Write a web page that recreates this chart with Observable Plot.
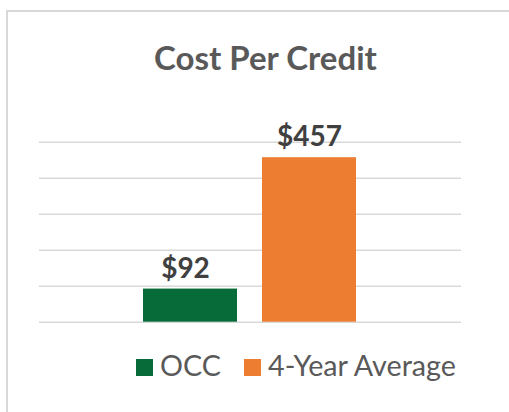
<!DOCTYPE html>
<html><head><meta charset="utf-8">
<script src="https://cdn.jsdelivr.net/npm/d3@7"></script>
<script src="https://cdn.jsdelivr.net/npm/@observablehq/plot@0.6"></script>
<style>
body{margin:0;background:#fff;overflow:hidden;}
#root{position:relative;width:509px;height:412px;overflow:hidden;font-family:Lato,"Open Sans",sans-serif;background:#fff;}
#frame{position:absolute;left:6px;top:10px;width:600px;height:500px;border-left:2px solid #d9d9d9;border-top:2px solid #d9d9d9;}
#title{position:absolute;left:100px;width:331px;top:41px;text-align:center;font-weight:700;font-size:33px;line-height:1;color:#595959;white-space:nowrap;}
#chart{position:absolute;left:0;top:100px;width:509px;height:240px;}
.sw{position:absolute;width:17px;height:17px;}
.lt{position:absolute;font-size:28.7px;line-height:1;color:#595959;white-space:nowrap;}
</style>
</head><body>
<div id="root">
  <div id="frame"></div>
  <div id="title"></div>
  <div id="chart"></div>
  <div id="legend"></div>
</div>
<script>
const chartTitle = "Cost Per Credit";
const categories = ["OCC", "4-Year Average"];
const values = [92, 457];
const valueLabels = ["$92", "$457"];
const colors = ["#066b38", "#ed7d31"];
const gridTicks = [0, 100, 200, 300, 400, 500];

const data = categories.map((c, i) => ({category: c, value: values[i], label: valueLabels[i]}));

document.getElementById("title").textContent = chartTitle;

const plot = Plot.plot({
  width: 509,
  height: 240,
  marginTop: 41.7,
  marginBottom: 18.3,
  marginLeft: 39,
  marginRight: 48,
  x: {domain: categories, paddingInner: 0.2083, paddingOuter: 0.8625, axis: null},
  y: {domain: [0, 500], axis: null},
  color: {domain: categories, range: colors},
  style: {fontFamily: "Lato, 'Open Sans', sans-serif", background: "transparent"},
  marks: [
    Plot.ruleY(gridTicks, {stroke: "#d9d9d9", strokeWidth: 1.5}),
    Plot.barY(data, {x: "category", y: "value", fill: "category"}),
    Plot.text(data.filter(d => d.category === categories[0]), {x: "category", y: "value", text: "label", dy: -20.5, dx: -5, fontSize: 28, fontWeight: 700, fill: "#404040"}),
    Plot.text(data.filter(d => d.category !== categories[0]), {x: "category", y: "value", text: "label", dy: -20.5, fontSize: 28, fontWeight: 700, fill: "#404040"})
  ]
});
document.getElementById("chart").appendChild(plot);

const legend = document.getElementById("legend");
const swLeft = [136, 244];
categories.forEach((c, i) => {
  const sw = document.createElement("div");
  sw.className = "sw";
  sw.style.left = swLeft[i] + "px";
  sw.style.top = "359px";
  sw.style.background = colors[i];
  legend.appendChild(sw);
  const t = document.createElement("div");
  t.className = "lt";
  t.style.left = (swLeft[i] + 24) + "px";
  t.style.top = "351.2px";
  t.textContent = c;
  legend.appendChild(t);
});
</script>
</body></html>
